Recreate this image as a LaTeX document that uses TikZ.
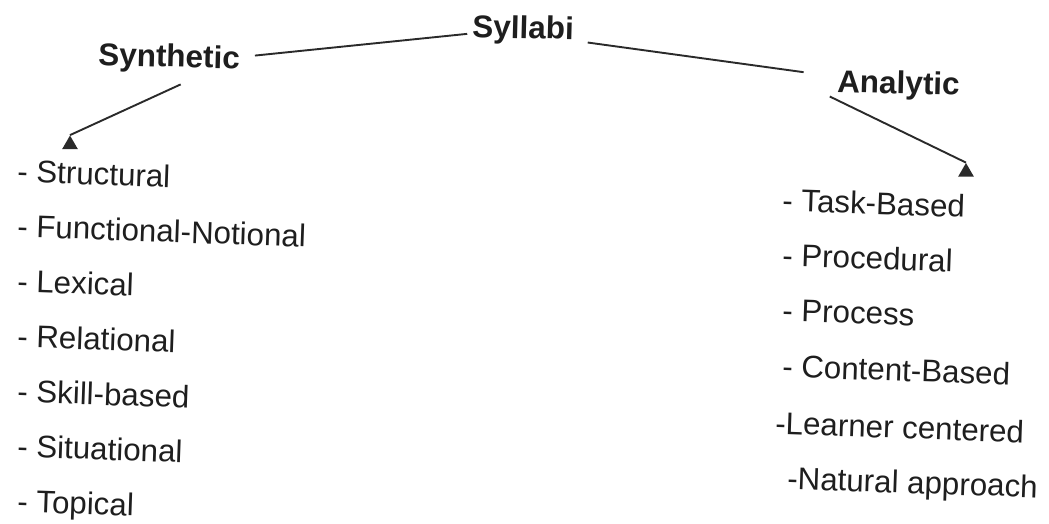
\documentclass[tikz,border=0pt]{standalone}
\usepackage{fontspec}
\setmainfont{Liberation Sans}
\usetikzlibrary{shapes.geometric}
\definecolor{ink}{HTML}{1E1E1E}
\definecolor{wire}{HTML}{2A2A2A}
\tikzset{
  title/.style={anchor=base west, inner sep=0pt, outer sep=0pt, text=ink,
    font=\fontsize{31.5}{36}\selectfont\bfseries, rotate=-1.5},
  item/.style={anchor=base west, inner sep=0pt, outer sep=0pt, text=ink,
    font=\fontsize{31.3}{36}\selectfont, rotate=-2},
  link/.style={draw=wire, line width=1.9pt},
  head/.style={regular polygon, regular polygon sides=3, fill=wire,
    draw=none, inner sep=0pt, minimum size=18pt}
}
\begin{document}
\begin{tikzpicture}[x=1pt, y=-1pt]
  \useasboundingbox (0,0) rectangle (1049,523);

  % headings
  \node[title] (syllabi)   at (472,37) {Syllabi};
  \node[title] (synthetic) at (98,65)  {Synthetic};
  \node[title] (analytic)  at (837,92) {Analytic};

  % synthetic syllabus types
  \node[item] (s1) at (17,182) {- Structural};
  \node[item] (s2) at (17,237) {- Functional-Notional};
  \node[item] (s3) at (17,292) {- Lexical};
  \node[item] (s4) at (17,347) {- Relational};
  \node[item] (s5) at (17,402) {- Skill-based};
  \node[item] (s6) at (17,457) {- Situational};
  \node[item] (s7) at (17,512) {- Topical};

  % analytic syllabus types
  \node[item] (a1) at (782,211) {- Task-Based};
  \node[item] (a2) at (782,266) {- Procedural};
  \node[item] (a3) at (782,321) {- Process};
  \node[item] (a4) at (782,377) {- Content-Based};
  \node[item] (a5) at (775,434) {-Learner centered};
  \node[item] (a6) at (787,489) {-Natural approach};

  % arrowheads above the two lists
  \node[head] (synHead) at (70,144.5) {};
  \node[head] (anaHead) at (966,172) {};

  % links between headings
  \draw[link] ([xshift=15pt,yshift=5pt]synthetic.east) -- ([xshift=-5pt,yshift=-5pt]syllabi.west);
  \draw[link] ([xshift=14pt,yshift=-11pt]syllabi.east) -- ([xshift=-34pt,yshift=-3pt]analytic.north west);

  % arrows down to the lists
  \draw[link] ([xshift=12pt,yshift=-11pt]synthetic.south) -- (synHead.corner 1);
  \draw[link] ([xshift=-7pt,yshift=2pt]analytic.south west) -- (anaHead.corner 1);
\end{tikzpicture}
\end{document}
